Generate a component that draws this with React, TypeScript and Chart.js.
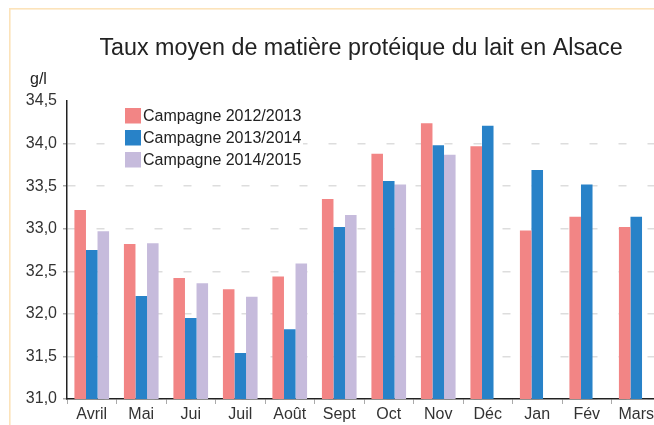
import React, { useEffect, useRef } from "react";
import { Chart, registerables } from "chart.js";

Chart.register(...registerables);

const TITLE = "Taux moyen de matière protéique du lait en Alsace";
const UNIT = "g/l";
const MONTHS = ["Avril", "Mai", "Jui", "Juil", "Août", "Sept", "Oct", "Nov", "Déc", "Jan", "Fév", "Mars"];
const SERIES_NAMES = ["Campagne 2012/2013", "Campagne 2013/2014", "Campagne 2014/2015"];
const C2012 = [33.22, 32.82, 32.42, 32.29, 32.44, 33.35, 33.88, 34.24, 33.97, 32.98, 33.14, 33.02];
const C2013 = [32.75, 32.21, 31.95, 31.54, 31.82, 33.02, 33.56, 33.98, 34.21, 33.69, 33.52, 33.14];
const C2014 = [32.97, 32.83, 32.36, 32.2, 32.59, 33.16, 33.52, 33.87, null, null, null, null];
const COLORS = ["#F28585", "#2882C8", "#C6BBDC"];
const Y_MIN = 31;
const Y_MAX = 34.5;
const Y_STEP = 0.5;

const FONT = "'Liberation Sans', Arial, sans-serif";

const decorPlugin = {
  id: "decor",
  beforeDraw(chart: any) {
    const ctx = chart.ctx;
    ctx.save();
    ctx.fillStyle = "#ffffff";
    ctx.fillRect(0, 0, chart.width, chart.height);
    ctx.fillStyle = "#FCE3BA";
    ctx.fillRect(9, 8, 1.6, chart.height - 8);
    ctx.fillRect(9, 8, chart.width - 9, 1.6);
    ctx.restore();
  },
  afterDraw(chart: any) {
    const ctx = chart.ctx;
    ctx.save();
    ctx.fillStyle = "#222222";
    ctx.font = `23.3px ${FONT}`;
    ctx.textAlign = "center";
    ctx.textBaseline = "alphabetic";
    ctx.fillText(TITLE, 361, 55);
    ctx.font = `16px ${FONT}`;
    ctx.textAlign = "left";
    ctx.fillText(UNIT, 30, 84);

    // legend inside plot area
    ctx.fillStyle = "#ffffff";
    ctx.fillRect(106, 104, 197, 68);
    chart.data.datasets.forEach((ds: any, i: number) => {
      const y = 108 + i * 22;
      ctx.fillStyle = ds.backgroundColor;
      ctx.fillRect(125, y, 16, 15.5);
      ctx.fillStyle = "#222222";
      ctx.font = `16px ${FONT}`;
      ctx.textBaseline = "middle";
      ctx.fillText(ds.label, 143, y + 8.5);
    });
    ctx.restore();
  },
};

export default function App() {
  const ref = useRef<HTMLCanvasElement>(null);
  useEffect(() => {
    if (!ref.current) return;
    const chart = new Chart(ref.current, {
      type: "bar",
      data: {
        labels: MONTHS,
        datasets: [C2012, C2013, C2014].map((d, i) => ({
          label: SERIES_NAMES[i],
          data: d,
          backgroundColor: COLORS[i],
          borderWidth: 0,
          categoryPercentage: 0.7,
          barPercentage: 1.0,
        })),
      },
      options: {
        responsive: false,
        devicePixelRatio: 1,
        animation: false,
        layout: { padding: { top: 101, left: 0, right: 0, bottom: 0 } },
        plugins: {
          legend: { display: false },
          title: { display: false },
          tooltip: { enabled: false },
        },
        scales: {
          x: {
            offset: true,
            grid: {
              display: true,
              offset: true,
              drawOnChartArea: false,
              drawTicks: true,
              tickLength: 5,
              tickColor: "#aaaaaa",
              color: "#aaaaaa",
            },
            border: { display: true, color: "#222222", width: 1.5 },
            ticks: {
              color: "#333333",
              font: { family: FONT, size: 16 },
              padding: 1,
              maxRotation: 0,
              autoSkip: false,
            },
            afterFit: (scale: any) => {
              scale.height = 26;
            },
          },
          y: {
            min: Y_MIN,
            max: Y_MAX,
            ticks: {
              stepSize: Y_STEP,
              color: "#333333",
              font: { family: FONT, size: 16 },
              padding: 6,
              callback: (v: any) => Number(v).toFixed(1).replace(".", ","),
            },
            grid: {
              color: (c: any) => (c.tick && c.tick.value === Y_MAX ? "rgba(0,0,0,0)" : "#DDDDDD"),
              tickColor: (c: any) => (c.tick && c.tick.value === Y_MAX ? "rgba(0,0,0,0)" : "#AAAAAA"),
              tickLength: 4,
              lineWidth: 1.5,
            },
            border: { display: true, color: "#222222", width: 1.5, dash: [8, 21] },
            afterFit: (scale: any) => {
              scale.width = 67;
            },
          },
        },
      },
      plugins: [decorPlugin],
    });
    return () => chart.destroy();
  }, []);
  return (
    <div
      style={{
        position: "fixed",
        left: 0,
        top: 0,
        width: 654,
        height: 425,
        overflow: "hidden",
        background: "#ffffff",
      }}
    >
      <canvas ref={ref} width={661} height={425} style={{ width: 661, height: 425, display: "block" }} />
    </div>
  );
}
